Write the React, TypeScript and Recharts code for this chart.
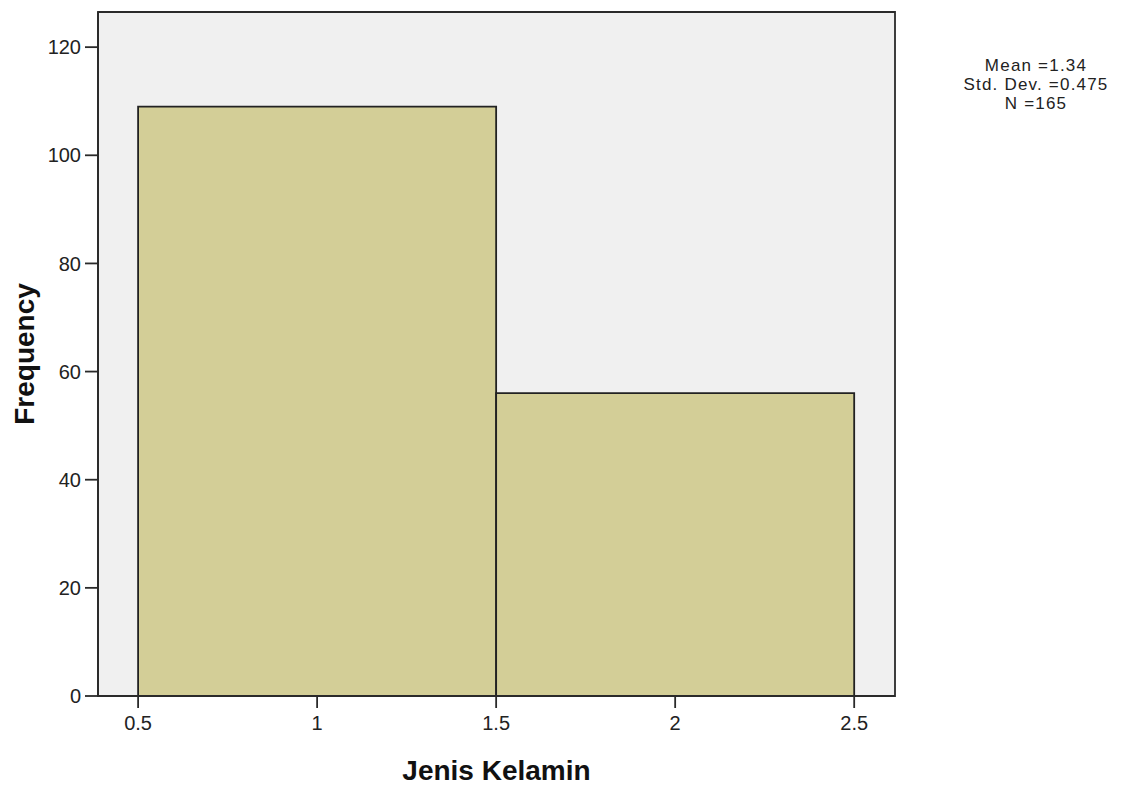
import React from "react";
import { ComposedChart, XAxis, YAxis, ReferenceArea } from "recharts";

const binStarts = [0.5, 1.5];
const binEnds = [1.5, 2.5];
const counts = [109, 56];
const xTicks = [0.5, 1, 1.5, 2, 2.5];
const yTicks = [0, 20, 40, 60, 80, 100, 120];
const xDomain = [0.388, 2.614];
const yDomain = [0, 126.5];
const statsLines = ["Mean =1.34", "Std. Dev. =0.475", "N =165"];
const xTitle = "Jenis Kelamin";
const yTitle = "Frequency";

const data = binStarts.map((s, i) => ({ x: (s + binEnds[i]) / 2, y: counts[i] }));

const AXIS = "#2a2a2a";
const FONT = "'Liberation Sans', Arial, sans-serif";

export default function App() {
  return (
    <div style={{ position: "relative", width: 1126, height: 783 }}>
      <ComposedChart
        width={1126}
        height={783}
        data={data}
        margin={{ top: 4, right: 239, bottom: 0, left: 0 }}
      >
        <XAxis
          type="number"
          dataKey="x"
          domain={xDomain}
          ticks={xTicks}
          allowDataOverflow
          height={95}
          tickSize={12}
          tickMargin={8}
          stroke={AXIS}
          strokeWidth={1.8}
          tick={{ fill: "#222", fontSize: 20, fontFamily: FONT }}
          label={({ viewBox }: any) => (
            <text
              x={viewBox.x + viewBox.width / 2}
              y={viewBox.y + 84}
              textAnchor="middle"
              fontSize={28}
              fontWeight="bold"
              fontFamily={FONT}
              fill="#111"
            >
              {xTitle}
            </text>
          )}
        />
        <YAxis
          type="number"
          domain={yDomain}
          ticks={yTicks}
          allowDataOverflow
          width={90}
          tickSize={13}
          tickMargin={4}
          stroke={AXIS}
          strokeWidth={1.8}
          tick={{ fill: "#222", fontSize: 20, fontFamily: FONT }}
          label={({ viewBox }: any) => {
            const cx = viewBox.x + 16;
            const cy = viewBox.y + viewBox.height / 2;
            return (
              <text
                x={cx}
                y={cy}
                transform={`rotate(-90, ${cx}, ${cy})`}
                textAnchor="middle"
                dominantBaseline="central"
                fontSize={28}
                fontWeight="bold"
                fontFamily={FONT}
                fill="#111"
              >
                {yTitle}
              </text>
            );
          }}
        />
        <ReferenceArea
          x1={xDomain[0]}
          x2={xDomain[1]}
          y1={yDomain[0]}
          y2={yDomain[1]}
          fill="#F0F0F0"
          fillOpacity={1}
          stroke={AXIS}
          strokeWidth={1.8}
          ifOverflow="visible"
        />
        {binStarts.map((s, i) => (
          <ReferenceArea
            key={i}
            x1={s}
            x2={binEnds[i]}
            y1={0}
            y2={counts[i]}
            fill="#D3CE97"
            fillOpacity={1}
            stroke="#222"
            strokeWidth={1.8}
            ifOverflow="visible"
          />
        ))}
      </ComposedChart>
      <div
        style={{
          position: "absolute",
          left: 928,
          top: 48,
          width: 200,
          textAlign: "center",
          fontFamily: FONT,
          fontSize: 17,
          letterSpacing: 1.2,
          lineHeight: "19px",
          color: "#222",
        }}
      >
        {statsLines.map((t, i) => (
          <div key={i}>{t}</div>
        ))}
      </div>
    </div>
  );
}
